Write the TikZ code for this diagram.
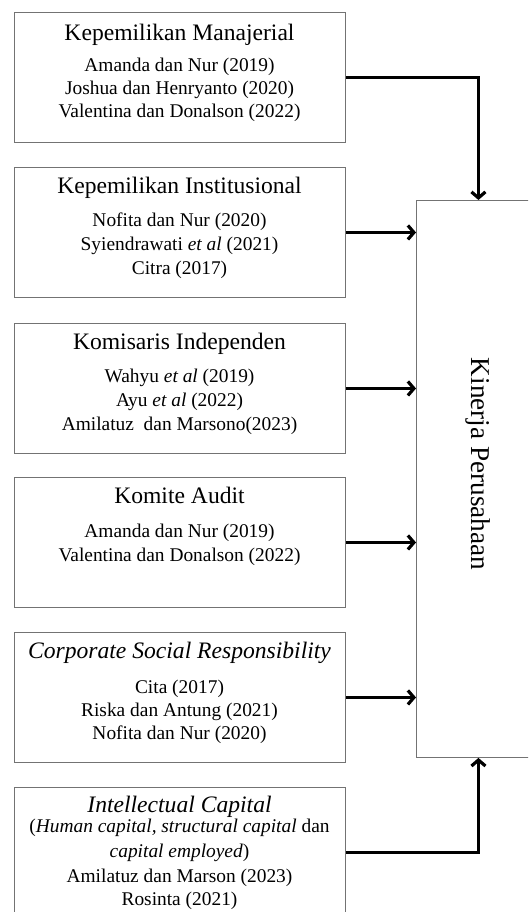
\documentclass[tikz,border=0pt]{standalone}
\usepackage{fontspec}
\setmainfont{Liberation Serif}
\usetikzlibrary{arrows.meta}
\tikzset{
  box/.style={draw=black!55, line width=0.9pt, minimum width=331pt, minimum height=130pt, inner sep=0pt, anchor=north west},
  hd/.style={font=\fontsize{23.6}{26}\selectfont, text height=0.7em, text depth=0.2em, inner sep=0pt, yshift=-4pt},
  bd/.style={font=\fontsize{19.4}{22}\selectfont, text height=0.7em, text depth=0.2em, inner sep=0pt, yshift=-3.5pt},
  arr/.style={line width=3.2pt, -{Straight Barb[length=6pt,width=14pt]}},
}
\begin{document}
\begin{tikzpicture}[x=1pt,y=-1pt]
\useasboundingbox (0,0) rectangle (528,912);
\clip (0,0) rectangle (528,912);
\fill[white] (0,0) rectangle (528,912);
% boxes
\node[box] (b1) at (14,12) {};
\node[box] (b2) at (14,167) {};
\node[box] (b3) at (14,323) {};
\node[box] (b4) at (14,477) {};
\node[box] (b5) at (14,632) {};
\node[box] (b6) at (14,787) {};
\node[draw=black!55, line width=0.9pt, minimum width=124pt, minimum height=557pt, inner sep=0pt, anchor=north west] (kp) at (416,200) {};
\node[font=\fontsize{27.2}{30}\selectfont, rotate=-90, inner sep=0pt] (kpt) at (478,464) {Kinerja Perusahaan};
% box 1
\node[hd] (h1) at (179.5,34) {Kepemilikan Manajerial};
\node[bd] (l11) at (179.5,66) {Amanda dan Nur (2019)};
\node[bd] (l12) at (179.5,89) {Joshua dan Henryanto (2020)};
\node[bd] (l13) at (179.5,112) {Valentina dan Donalson (2022)};
% box 2
\node[hd] (h2) at (179.5,187) {Kepemilikan Institusional};
\node[bd] (l21) at (179.5,220) {Nofita dan Nur (2020)};
\node[bd] (l22) at (179.5,244) {Syiendrawati \textit{et al} (2021)};
\node[bd] (l23) at (179.5,268) {Citra (2017)};
% box 3
\node[hd] (h3) at (179.5,343) {Komisaris Independen};
\node[bd] (l31) at (179.5,376) {Wahyu \textit{et al} (2019)};
\node[bd] (l32) at (179.5,400) {Ayu \textit{et al} (2022)};
\node[bd] (l33) at (179.5,424) {Amilatuz\ \ dan Marsono(2023)};
% box 4
\node[hd] (h4) at (179.5,497) {Komite Audit};
\node[bd] (l41) at (179.5,531) {Amanda dan Nur (2019)};
\node[bd] (l42) at (179.5,555) {Valentina dan Donalson (2022)};
% box 5
\node[hd] (h5) at (179.5,652) {\textit{Corporate Social Responsibility}};
\node[bd] (l51) at (179.5,687) {Cita (2017)};
\node[bd] (l52) at (179.5,710) {Riska dan Antung (2021)};
\node[bd] (l53) at (179.5,733) {Nofita dan Nur (2020)};
% box 6
\node[hd] (h6) at (179.5,806) {\textit{Intellectual Capital}};
\node[bd] (l61) at (179.5,826) {(\textit{Human capital, structural capital} dan};
\node[bd] (l62) at (179.5,851) {\textit{capital employed})};
\node[bd] (l63) at (179.5,876) {Amilatuz dan Marson (2023)};
\node[bd] (l64) at (179.5,899) {Rosinta (2021)};
% connectors
\draw[arr] (b1.east) -| (kp.north);
\draw[arr] (b2.east) -- (b2.east -| kp.west);
\draw[arr] (b3.east) -- (b3.east -| kp.west);
\draw[arr] (b4.east) -- (b4.east -| kp.west);
\draw[arr] (b5.east) -- (b5.east -| kp.west);
\draw[arr] (b6.east) -| (kp.south);
\end{tikzpicture}
\end{document}
